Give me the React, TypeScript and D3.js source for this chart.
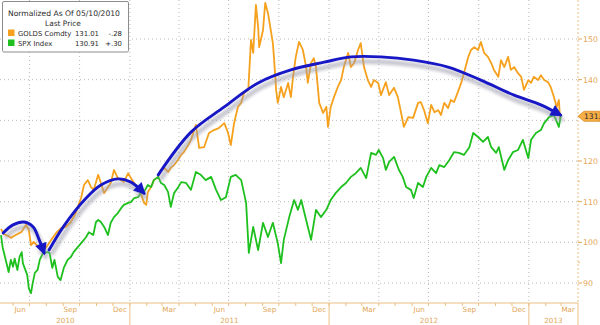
import React from "react";
import * as d3 from "d3";

const goldDates = ["2010-05-10","2010-05-15","2010-05-23","2010-05-28","2010-06-06","2010-06-16","2010-06-25","2010-06-30","2010-07-04","2010-07-09","2010-07-17","2010-07-22","2010-07-31","2010-08-10","2010-08-19","2010-08-28","2010-09-06","2010-09-15","2010-09-24","2010-10-04","2010-10-09","2010-10-16","2010-10-22","2010-10-27","2010-11-04","2010-11-09","2010-11-15","2010-11-22","2010-11-27","2010-12-03","2010-12-10","2010-12-16","2010-12-21","2010-12-29","2011-01-03","2011-01-09","2011-01-16","2011-01-21","2011-01-27","2011-01-31","2011-02-03","2011-02-09","2011-02-14","2011-02-22","2011-02-27","2011-03-05","2011-03-12","2011-03-17","2011-03-23","2011-03-30","2011-04-05","2011-04-10","2011-04-18","2011-04-23","2011-05-02","2011-05-08","2011-05-17","2011-05-26","2011-06-04","2011-06-13","2011-06-23","2011-06-30","2011-07-05","2011-07-11","2011-07-18","2011-07-24","2011-07-29","2011-08-06","2011-08-11","2011-08-15","2011-08-20","2011-08-24","2011-08-26","2011-09-02","2011-09-06","2011-09-11","2011-09-17","2011-09-20","2011-09-22","2011-09-26","2011-09-29","2011-10-05","2011-10-10","2011-10-18","2011-10-23","2011-10-27","2011-11-01","2011-11-07","2011-11-14","2011-11-20","2011-11-23","2011-11-29","2011-12-04","2011-12-08","2011-12-14","2011-12-21","2011-12-27","2011-12-30","2012-01-04","2012-01-10","2012-01-17","2012-01-23","2012-01-28","2012-02-05","2012-02-10","2012-02-16","2012-02-23","2012-02-28","2012-03-05","2012-03-12","2012-03-18","2012-03-23","2012-03-31","2012-04-05","2012-04-14","2012-04-20","2012-04-29","2012-05-06","2012-05-12","2012-05-17","2012-05-25","2012-06-03","2012-06-12","2012-06-17","2012-06-23","2012-06-30","2012-07-06","2012-07-12","2012-07-19","2012-07-24","2012-07-30","2012-08-06","2012-08-11","2012-08-17","2012-08-24","2012-08-30","2012-09-04","2012-09-12","2012-09-17","2012-09-23","2012-09-30","2012-10-05","2012-10-11","2012-10-18","2012-10-24","2012-10-29","2012-11-06","2012-11-11","2012-11-17","2012-11-24","2012-11-29","2012-12-05","2012-12-12","2012-12-18","2012-12-23","2012-12-31","2013-01-05","2013-01-10","2013-01-18","2013-01-23","2013-01-29","2013-02-05","2013-02-10","2013-02-16","2013-02-21","2013-02-25","2013-02-27","2013-03-01"];
const goldValues = [103.3,102.0,101.6,101.1,101.8,102.5,104.3,103.0,99.3,100.1,98.9,98.1,98.6,100.6,102.3,103.5,103.8,105.0,107.2,111.1,114.1,115.3,113.6,112.9,116.6,114.6,112.1,113.6,114.6,117.8,115.8,115.3,114.8,117.0,115.8,114.6,113.4,112.1,109.7,109.2,112.4,113.6,115.3,116.1,117.8,118.3,117.3,118.3,119.0,120.2,121.5,122.2,123.9,125.2,128.9,123.2,123.4,126.9,127.6,128.1,129.3,126.9,123.9,129.3,133.3,134.3,136.7,137.5,149.8,146.6,158.4,153.0,148.0,152.2,158.9,156.4,151.5,149.0,145.6,137.5,134.3,138.2,135.7,139.2,135.7,140.7,145.6,149.3,147.3,143.1,139.2,144.1,145.3,143.1,134.3,131.8,133.3,128.4,133.3,135.7,138.2,139.9,143.1,146.6,143.1,144.1,147.3,149.0,143.1,139.9,138.2,139.9,139.2,136.2,139.4,136.2,138.0,135.7,131.8,128.4,130.8,130.6,134.3,134.5,132.5,129.3,133.8,132.0,132.5,131.3,134.3,133.0,135.0,134.5,137.0,139.2,141.6,145.6,147.3,148.0,147.3,149.3,146.6,145.6,144.1,142.4,140.7,144.8,143.1,145.6,142.4,143.1,141.6,140.7,137.5,139.9,139.2,140.7,139.9,141.1,139.9,139.4,138.2,135.7,133.3,135.0,130.6,131.0];

const spxDates = ["2010-05-10","2010-05-13","2010-05-20","2010-05-24","2010-05-28","2010-06-01","2010-06-04","2010-06-09","2010-06-13","2010-06-17","2010-06-19","2010-06-27","2010-06-30","2010-07-04","2010-07-07","2010-07-11","2010-07-16","2010-07-20","2010-07-26","2010-08-02","2010-08-07","2010-08-12","2010-08-16","2010-08-22","2010-08-27","2010-09-02","2010-09-09","2010-09-15","2010-09-20","2010-09-28","2010-10-04","2010-10-13","2010-10-18","2010-10-26","2010-10-31","2010-11-04","2010-11-09","2010-11-15","2010-11-22","2010-11-27","2010-12-03","2010-12-10","2010-12-16","2010-12-21","2010-12-29","2011-01-03","2011-01-09","2011-01-16","2011-01-21","2011-01-27","2011-02-03","2011-02-09","2011-02-14","2011-02-22","2011-02-27","2011-03-05","2011-03-12","2011-03-17","2011-03-23","2011-03-30","2011-04-05","2011-04-14","2011-04-23","2011-05-02","2011-05-11","2011-05-20","2011-05-30","2011-06-08","2011-06-17","2011-06-26","2011-07-05","2011-07-14","2011-07-24","2011-08-02","2011-08-07","2011-08-15","2011-08-24","2011-09-02","2011-09-11","2011-09-20","2011-09-29","2011-10-05","2011-10-10","2011-10-20","2011-10-29","2011-11-05","2011-11-11","2011-11-20","2011-11-29","2011-12-08","2011-12-17","2011-12-27","2012-01-04","2012-01-13","2012-01-23","2012-02-01","2012-02-10","2012-02-19","2012-02-28","2012-03-09","2012-03-18","2012-03-27","2012-04-01","2012-04-09","2012-04-14","2012-04-20","2012-04-29","2012-05-08","2012-05-15","2012-05-21","2012-05-30","2012-06-04","2012-06-12","2012-06-21","2012-06-27","2012-07-06","2012-07-15","2012-07-21","2012-07-30","2012-08-08","2012-08-17","2012-08-26","2012-09-04","2012-09-14","2012-09-21","2012-09-30","2012-10-09","2012-10-18","2012-10-24","2012-11-02","2012-11-07","2012-11-17","2012-11-24","2012-12-03","2012-12-12","2012-12-21","2012-12-31","2013-01-05","2013-01-14","2013-01-23","2013-01-29","2013-02-07","2013-02-16","2013-02-25","2013-02-28","2013-03-01"];
const spxValues = [101.8,98.8,94.9,92.7,95.7,94.0,96.0,93.2,96.4,97.6,94.9,92.0,88.7,87.5,89.9,92.5,93.2,95.7,97.4,97.6,97.4,93.7,95.7,91.5,90.7,93.7,95.7,96.4,97.6,98.9,99.8,101.3,102.5,101.8,105.0,105.5,105.0,103.8,101.8,104.8,106.2,107.2,108.4,109.2,109.7,109.9,110.9,111.1,112.1,112.4,114.1,113.6,115.3,116.1,114.6,114.1,112.4,108.7,112.1,113.4,114.8,114.6,112.9,117.3,116.6,115.3,116.1,112.9,110.4,111.1,116.1,116.6,115.3,109.7,97.4,103.8,98.1,104.8,101.3,104.8,99.8,94.9,100.6,106.2,110.4,108.0,110.4,105.5,100.6,108.0,106.2,108.0,110.4,112.1,113.6,114.6,116.1,117.0,118.3,115.8,122.0,121.5,122.7,120.7,117.8,119.8,121.0,117.8,116.1,113.6,112.9,110.9,114.6,113.6,116.1,118.3,117.0,119.0,118.5,120.2,122.2,122.0,121.5,123.4,126.9,125.9,124.7,125.9,123.4,122.0,123.4,117.8,120.2,122.2,122.7,125.2,120.7,125.2,126.9,127.6,129.3,130.8,131.3,128.4,130.8,130.9];

// annotation arrows (hand-drawn curves in the original), in data units
const arrow1Dates = ["2010-05-14","2010-06-01","2010-06-21","2010-07-08","2010-07-19","2010-07-28"];
const arrow1Values = [102.3,104.3,105.0,103.8,100.6,97.4];
const arrow2Dates = ["2010-08-06","2010-09-02","2010-10-13","2010-11-09","2010-12-10","2011-01-03","2011-01-27"];
const arrow2Values = [98.1,104.0,110.9,114.1,115.6,114.8,112.1];
const arrow3Dates = ["2011-02-22","2011-04-23","2011-06-23","2011-08-24","2011-10-23","2011-12-23","2012-02-10","2012-04-05","2012-06-04","2012-08-06","2012-10-05","2012-12-05","2013-01-23","2013-02-28"];
const arrow3Values = [116.6,127.1,133.3,139.2,142.4,144.3,145.6,145.6,144.8,143.1,139.9,136.2,133.8,131.3];

const yGrid = [90, 100, 110, 120, 130, 140, 150];
const yLabels = [90, 100, 110, 120, 140, 150];
const yMinor = [95, 105, 115, 125, 135, 145];
const gridDates = ["2010-07-01","2010-10-01","2011-01-01","2011-04-01","2011-07-01","2011-10-01","2012-01-01","2012-04-01","2012-07-01","2012-10-01","2013-01-01"];
const monthLabels = ["Jun","Sep","Dec","Mar","Jun","Sep","Dec","Mar","Jun","Sep","Dec","Mar"];
const monthLabelDates = ["2010-06-14","2010-09-14","2010-12-14","2011-03-14","2011-06-14","2011-09-14","2011-12-14","2012-03-14","2012-06-14","2012-09-14","2012-12-14","2013-03-14"];
const yearLabels = ["2010","2011","2012","2013"];
const yearBounds = ["2010-05-10","2011-01-01","2012-01-01","2013-01-01","2013-04-01"];
const startDate = "2010-05-10";
const endDate = "2013-04-01";

const legendTitle = "Normalized As Of 05/10/2010";
const legendSub = "Last Price";
const seriesNames = ["GOLDS Comdty", "SPX Index"];
const seriesLast = ["131.01", "130.91"];
const seriesChange = ["-.28", "+.30"];
const tagText = "131.";

const ORANGE = "#F6A11D";
const GREEN = "#1EC01E";
const BLUE = "#1717C6";
const AXIS = "#EBBF85";
const LABEL = "#E3A656";
const FONT = "DejaVu Sans, Verdana, sans-serif";

const parse = d3.timeParse("%Y-%m-%d");

export default function App() {
  const x = d3.scaleTime().domain([parse(startDate)!, parse(endDate)!]).range([1, 578]);
  const y = d3.scaleLinear().domain([90, 150]).range([283, 39]);

  const line = d3
    .line<[Date, number]>()
    .x((d) => x(d[0]))
    .y((d) => y(d[1]));
  const curve = d3
    .line<[Date, number]>()
    .x((d) => x(d[0]))
    .y((d) => y(d[1]))
    .curve(d3.curveCatmullRom.alpha(0.5));

  const zip = (ds: string[], vs: number[]) => ds.map((d, i) => [parse(d)!, vs[i]] as [Date, number]);
  const gold = zip(goldDates, goldValues);
  const spx = zip(spxDates, spxValues);
  const arrows = [zip(arrow1Dates, arrow1Values), zip(arrow2Dates, arrow2Values), zip(arrow3Dates, arrow3Values)];

  const axisBottom = 303;
  const axisX = x(parse(endDate)!);
  const months = d3.timeMonth.range(parse(startDate)!, parse(endDate)!);
  const tagY = y(goldValues[goldValues.length - 1]);

  return (
    <svg width={600} height={325} style={{ position: "absolute", left: 0, top: 0, background: "#fff" }} fontFamily={FONT}>
      <defs>
        <marker id="ah" viewBox="0 0 10 10" refX="8" refY="5" markerWidth="13" markerHeight="12" markerUnits="userSpaceOnUse" orient="auto">
          <path d="M0,0 L10,5 L0,10 z" fill={BLUE} />
        </marker>
        <marker id="ahs" viewBox="0 0 10 10" refX="8" refY="5" markerWidth="13" markerHeight="12" markerUnits="userSpaceOnUse" orient="auto">
          <path d="M0,0 L10,5 L0,10 z" fill="#9a9aaa" />
        </marker>
        <filter id="blur" x="-10%" y="-10%" width="120%" height="120%">
          <feGaussianBlur stdDeviation="1.6" />
        </filter>
      </defs>
      <rect x={0} y={0} width={600} height={325} fill="#fff" />
      {/* grid */}
      {yGrid.map((v) => (
        <line key={"h" + v} x1={0} x2={axisX} y1={y(v)} y2={y(v)} stroke="#b9b9b9" strokeWidth={1} strokeDasharray="1,3" />
      ))}
      {gridDates.map((d) => (
        <line key={"v" + d} x1={x(parse(d)!)} x2={x(parse(d)!)} y1={0} y2={axisBottom} stroke="#b9b9b9" strokeWidth={1} strokeDasharray="1,3" />
      ))}
      {/* series */}
      <path d={line(gold)!} fill="none" stroke={ORANGE} strokeWidth={1.8} strokeLinejoin="round" />
      <path d={line(spx)!} fill="none" stroke={GREEN} strokeWidth={1.8} strokeLinejoin="round" />
      {/* arrow shadows */}
      <g filter="url(#blur)" opacity={0.55} transform="translate(2,5)">
        {arrows.map((a, i) => (
          <path key={"s" + i} d={curve(a)!} fill="none" stroke="#9a9aaa" strokeWidth={5} markerEnd="url(#ahs)" />
        ))}
      </g>
      {arrows.map((a, i) => (
        <path key={"a" + i} d={curve(a)!} fill="none" stroke={BLUE} strokeWidth={2.9} strokeLinecap="round" markerEnd="url(#ah)" />
      ))}
      {/* right axis */}
      <line x1={axisX} x2={axisX} y1={0} y2={axisBottom} stroke={AXIS} strokeWidth={1} strokeDasharray="2,2" />
      {yLabels.map((v) => (
        <g key={"yl" + v}>
          <line x1={axisX} x2={axisX + 4} y1={y(v)} y2={y(v)} stroke={LABEL} strokeWidth={1} />
          <text x={axisX + 5} y={y(v) + 3} fontSize={7.8} fill={LABEL}>{v}</text>
        </g>
      ))}
      {yMinor.map((v) => (
        <line key={"ym" + v} x1={axisX} x2={axisX + 2} y1={y(v)} y2={y(v)} stroke={AXIS} strokeWidth={1} />
      ))}
      {/* last value tag */}
      <polygon
        points={`${axisX},${tagY} ${axisX + 6},${tagY - 5} ${600},${tagY - 5} ${600},${tagY + 5} ${axisX + 6},${tagY + 5}`}
        fill="#F5AE45"
        stroke="#D98E25"
        strokeWidth={0.8}
      />
      <text x={axisX + 6} y={tagY + 3} fontSize={7.6} fill="#2a2a2a">{tagText}</text>
      {/* bottom axis */}
      <line x1={0} x2={axisX} y1={axisBottom} y2={axisBottom} stroke={AXIS} strokeWidth={1} />
      {months.map((m) => (
        <line key={"mt" + m.getTime()} x1={x(m)} x2={x(m)} y1={axisBottom} y2={axisBottom + 3} stroke={AXIS} strokeWidth={1} />
      ))}
      {yearBounds.slice(1).map((d) => (
        <line key={"yb" + d} x1={x(parse(d)!)} x2={x(parse(d)!)} y1={axisBottom} y2={325} stroke={AXIS} strokeWidth={1} />
      ))}
      {monthLabels.map((m, i) => (
        <text key={"ml" + i} x={x(parse(monthLabelDates[i])!)} y={312} fontSize={7.2} fill={LABEL} textAnchor="middle">{m}</text>
      ))}
      {yearLabels.map((yl, i) => {
        const a = x(parse(yearBounds[i])!);
        const b = x(parse(yearBounds[i + 1])!);
        return (
          <text key={"yr" + yl} x={(a + b) / 2} y={323} fontSize={7.2} fill={LABEL} textAnchor="middle">{yl}</text>
        );
      })}
      {/* legend */}
      <rect x={2.5} y={1.5} width={126} height={50.5} fill="#fff" stroke="#8c8c8c" strokeWidth={1} rx={1.5} />
      <text x={8} y={16} fontSize={7.6} fill="#2b2b2b">{legendTitle}</text>
      <text x={63} y={26} fontSize={7.4} fill="#2b2b2b" textAnchor="middle">{legendSub}</text>
      {seriesNames.map((n, i) => (
        <g key={n}>
          <rect x={8} y={29.5 + i * 10} width={6.5} height={6.5} fill={i === 0 ? ORANGE : GREEN} />
          <text x={18} y={36 + i * 10} fontSize={6.9} fill="#2b2b2b">{n}</text>
          <text x={99} y={36 + i * 10} fontSize={6.9} fill="#2b2b2b" textAnchor="end">{seriesLast[i]}</text>
          <text x={122} y={36 + i * 10} fontSize={6.9} fill="#2b2b2b" textAnchor="end">{seriesChange[i]}</text>
        </g>
      ))}
    </svg>
  );
}
